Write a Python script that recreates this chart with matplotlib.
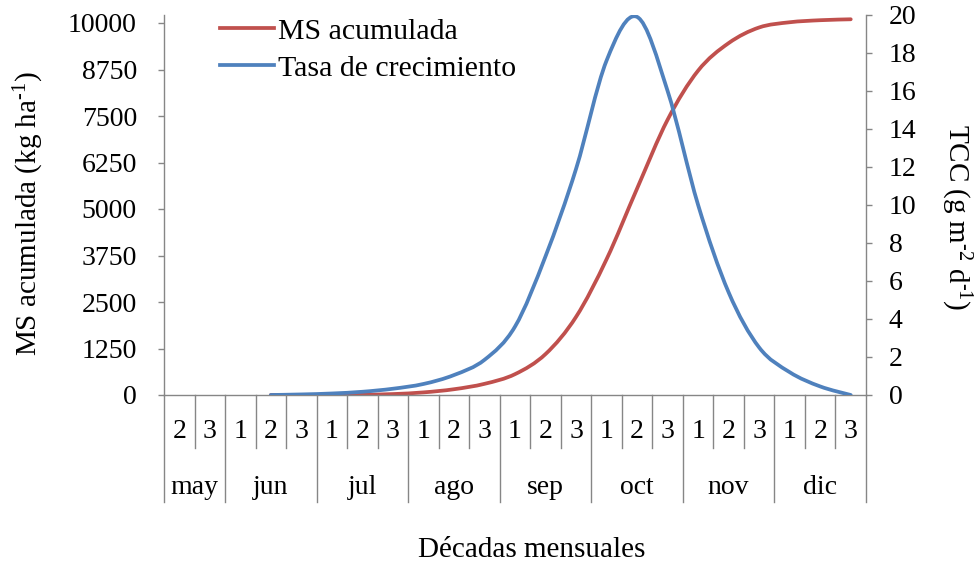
import matplotlib
matplotlib.use("Agg")
import matplotlib.pyplot as plt
import numpy as np
from matplotlib.path import Path
from matplotlib.patches import PathPatch
from matplotlib.lines import Line2D
import matplotlib.transforms as mtransforms

plt.rcParams['font.family'] = ['Liberation Serif', 'DejaVu Serif']
plt.rcParams['mathtext.fontset'] = 'custom'
plt.rcParams['mathtext.rm'] = 'Liberation Serif'
plt.rcParams['mathtext.it'] = 'Liberation Serif:italic'

# Ten-day periods (decades) of each month
decadas = ["2", "3",
           "1", "2", "3",
           "1", "2", "3",
           "1", "2", "3",
           "1", "2", "3",
           "1", "2", "3",
           "1", "2", "3",
           "1", "2", "3"]
meses = ["may", "jun", "jul", "ago", "sep", "oct", "nov", "dic"]
decadas_por_mes = [2, 3, 3, 3, 3, 3, 3, 3]

# Series start at jun-2 (index 3) and run to dic-3 (index 22)
inicio = 3
ms_acumulada = [0, 0, 2, 7, 25, 70, 155, 300, 560, 1100, 2100, 3650,
                5550, 7400, 8720, 9460, 9880, 10020, 10075, 10100]
tcc = [0.0, 0.03, 0.08, 0.17, 0.33, 0.58, 1.05, 1.85, 3.6, 7.3, 11.9, 17.6,
       19.9, 16.0, 10.0, 5.4, 2.5, 1.2, 0.45, 0.0]

ms_ticks = [0, 1250, 2500, 3750, 5000, 6250, 7500, 8750, 10000]
tcc_ticks = [0, 2, 4, 6, 8, 10, 12, 14, 16, 18, 20]

ROJO = "#C0504D"
AZUL = "#4F81BD"
GRIS = "#868686"
FS = 20       # tick and category labels
FS_T = 21     # axis titles
FS_L = 21.5   # legend

W, H = 977, 565
fig = plt.figure(figsize=(W / 100, H / 100), dpi=100)
x0, x1, ytop, ybot = 164, 866, 15, 395
ax = fig.add_axes([x0 / W, 1 - ybot / H, (x1 - x0) / W, (ybot - ytop) / H])
ax2 = ax.twinx()

n_cat = len(decadas)
ax.set_xlim(-0.5, n_cat - 0.5)
ax.set_ylim(0, 10000 * (ybot - ytop) / (ybot - 23))
ax2.set_ylim(0, 20)
ax.set_yticks(ms_ticks)
ax.set_yticklabels([str(v) for v in ms_ticks])
ax2.set_yticks(tcc_ticks)
ax.set_xticks([])
ax2.set_xticks([])

for s in ["top", "right"]:
    ax.spines[s].set_visible(False)
for s in ["top", "left", "bottom"]:
    ax2.spines[s].set_visible(False)
for sp in [ax.spines["left"], ax.spines["bottom"], ax2.spines["right"]]:
    sp.set_color(GRIS)
    sp.set_linewidth(1.0)

ax.tick_params(axis="y", direction="out", length=4.5, width=1, color=GRIS,
               labelsize=FS, pad=15)
ax2.tick_params(axis="y", direction="out", length=4.5, width=1, color=GRIS,
                labelsize=FS, pad=12)


def curva_suave(xs, ys):
    pts = np.column_stack([xs, ys]).astype(float)
    n = len(pts)
    verts = [tuple(pts[0])]
    codes = [Path.MOVETO]
    for i in range(n - 1):
        p0 = pts[i - 1] if i > 0 else pts[i]
        p1 = pts[i]
        p2 = pts[i + 1]
        p3 = pts[i + 2] if i + 2 < n else pts[i + 1]
        c1 = p1 + (p2 - p0) / 6.0
        c2 = p2 - (p3 - p1) / 6.0
        verts += [tuple(c1), tuple(c2), tuple(p2)]
        codes += [Path.CURVE4] * 3
    return Path(verts, codes)


xs = np.arange(inicio, inicio + len(ms_acumulada))
ax.add_patch(PathPatch(curva_suave(xs, ms_acumulada), fill=False,
                       edgecolor=ROJO, lw=2.7, capstyle="round",
                       joinstyle="round"))
ax2.add_patch(PathPatch(curva_suave(xs, tcc), fill=False,
                        edgecolor=AZUL, lw=2.7, capstyle="round",
                        joinstyle="round"))

# Two-level category axis: decades and months
tr = mtransforms.blended_transform_factory(ax.transData, ax.transAxes)
hgt = ybot - ytop
y_corto = -(448 - ybot) / hgt
y_largo = -(502 - ybot) / hgt
y_dec = -(432 - ybot) / hgt
y_mes = -(487 - ybot) / hgt

limites_mes = np.cumsum([0] + decadas_por_mes) - 0.5
for b in np.arange(-0.5, n_cat, 1.0):
    largo = np.any(np.isclose(b, limites_mes))
    ax.add_line(Line2D([b, b], [0, y_largo if largo else y_corto],
                       transform=tr, color=GRIS, lw=1.0, clip_on=False))
for i, d in enumerate(decadas):
    ax.text(i, y_dec, d, transform=tr, ha="center", va="center", fontsize=FS)
for k, m in enumerate(meses):
    c = (limites_mes[k] + limites_mes[k + 1]) / 2
    ax.text(c, y_mes, m, transform=tr, ha="center", va="center", fontsize=FS)

fig.text(532 / W, 1 - 550 / H, "Décadas mensuales", ha="center", va="center",
         fontsize=FS_T)
fig.text(29 / W, 1 - 214 / H, r"MS acumulada (kg ha$^{\text{-1}}$)",
         rotation=90, ha="center", va="center", fontsize=FS_T)
fig.text(956 / W, 1 - 217 / H,
         r"TCC (g m$^{\text{-2}}$ d$^{\text{-1}}$)",
         rotation=270, ha="center", va="center", fontsize=FS_T)

handles = [Line2D([], [], color=ROJO, lw=2.7),
           Line2D([], [], color=AZUL, lw=2.7)]
fig.legend(handles, ["MS acumulada", "Tasa de crecimiento"],
           loc="upper left", bbox_to_anchor=(220 / W, 1 - 18 / H),
           frameon=False, fontsize=FS_L, handlelength=1.8, handletextpad=0.13,
           labelspacing=0.33, borderpad=0, borderaxespad=0)

fig.savefig("out.png", dpi=100)
